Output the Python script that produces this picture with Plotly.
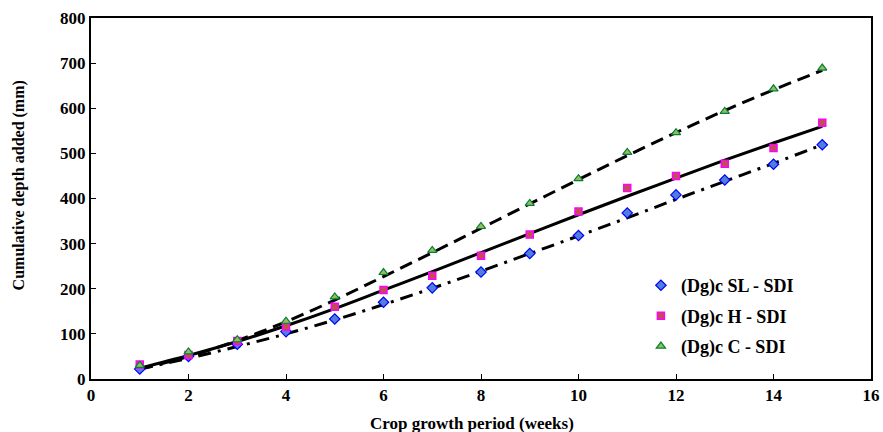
import plotly.graph_objects as go

weeks = [1, 2, 3, 4, 5, 6, 7, 8, 9, 10, 11, 12, 13, 14, 15]

sl_sdi = [22, 50, 77, 105, 133, 170, 202, 237, 278, 318, 368, 408, 441, 476, 519]
h_sdi = [32, 53, 84, 116, 160, 197, 229, 273, 320, 371, 423, 450, 477, 512, 568]
c_sdi = [30, 60, 87, 128, 182, 236, 285, 338, 389, 444, 502, 546, 593, 643, 689]

# trend lines
sl_fit = [22, 46, 72, 100, 131, 165, 201, 239, 278, 317, 357, 398, 438, 478, 519]
h_fit = [24, 52, 83, 118, 156, 197, 238, 280, 322, 364, 405, 445, 485, 523, 560]
c_fit = [22, 50, 85, 127, 175, 227, 280, 334, 388, 442, 495, 546, 595, 641, 684]

names = ["(Dg)c SL - SDI", "(Dg)c H - SDI", "(Dg)c C - SDI"]

x_ticks = [0, 2, 4, 6, 8, 10, 12, 14, 16]
y_ticks = [0, 100, 200, 300, 400, 500, 600, 700, 800]

x_title = "Crop growth period (weeks)"
y_title = "Cumulative depth added (mm)"

fig = go.Figure()

font_family = "Liberation Serif"

for fit, dash in [(sl_fit, "13px,7px,3px,7px"), (h_fit, "solid"), (c_fit, "13px,7px")]:
    fig.add_trace(go.Scatter(x=weeks, y=fit, mode="lines",
                             line=dict(color="black", width=3, dash=dash, shape="spline", smoothing=1.0),
                             showlegend=False, hoverinfo="skip"))

fig.add_trace(go.Scatter(x=weeks, y=sl_sdi, mode="markers", name="<b>" + names[0] + "</b>", legendgroup="a",
                         marker=dict(symbol="diamond", size=8, color="#4F7FD8", line=dict(color="#0000FF", width=1.2))))
fig.add_trace(go.Scatter(x=weeks, y=h_sdi, mode="markers", name="<b>" + names[1] + "</b>", legendgroup="b",
                         marker=dict(symbol="square", size=7, color="#C0504D", line=dict(color="#FF00FF", width=1.5))))
fig.add_trace(go.Scatter(x=weeks, y=c_sdi, mode="markers", name="<b>" + names[2] + "</b>", legendgroup="c",
                         marker=dict(symbol="triangle-up", size=8, color="#9BBB59", line=dict(color="#00803A", width=1.2))))

tfont = dict(family=font_family, size=17, color="black")

fig.update_layout(
    width=883, height=432,
    margin=dict(l=91, r=12, t=18, b=53),
    plot_bgcolor="white", paper_bgcolor="white",
    font=dict(family=font_family, color="black", size=15),
    legend=dict(x=0.705, y=0.31, xanchor="left", yanchor="top", tracegroupgap=4, itemwidth=30,
                font=dict(family=font_family, size=18), bgcolor="rgba(0,0,0,0)"),
    xaxis=dict(range=[0, 16], tickvals=x_ticks, ticktext=["<b>%d</b>" % v for v in x_ticks],
               showgrid=False, zeroline=False, automargin=False,
               showline=True, linecolor="black", linewidth=2, mirror=True,
               ticks="inside", ticklen=5, tickcolor="black", tickfont=tfont),
    yaxis=dict(range=[0, 800], tickvals=y_ticks, ticktext=["<b>%d</b>" % v for v in y_ticks],
               showgrid=False, zeroline=False, automargin=False,
               showline=True, linecolor="black", linewidth=2, mirror=True,
               ticks="inside", ticklen=5, tickcolor="black", tickfont=tfont),
    annotations=[
        dict(text="<b>" + y_title + "</b>", xref="paper", yref="paper",
             x=-0.092, y=0.537, xanchor="center", yanchor="middle", textangle=-90, showarrow=False,
             font=dict(family=font_family, size=16, color="black")),
        dict(text="<b>" + x_title + "</b>", xref="paper", yref="paper",
             x=0.488, y=-0.122, xanchor="center", yanchor="middle", showarrow=False,
             font=dict(family=font_family, size=17, color="black")),
    ],
)

fig.write_html("out.html", config={"displayModeBar": False})

# remove the default page margin so the figure fills the window exactly
with open("out.html", encoding="utf-8") as f:
    html = f.read()
html = html.replace("<head>", "<head><style>html,body{margin:0;padding:0;overflow:hidden;}</style>", 1)
with open("out.html", "w", encoding="utf-8") as f:
    f.write(html)
